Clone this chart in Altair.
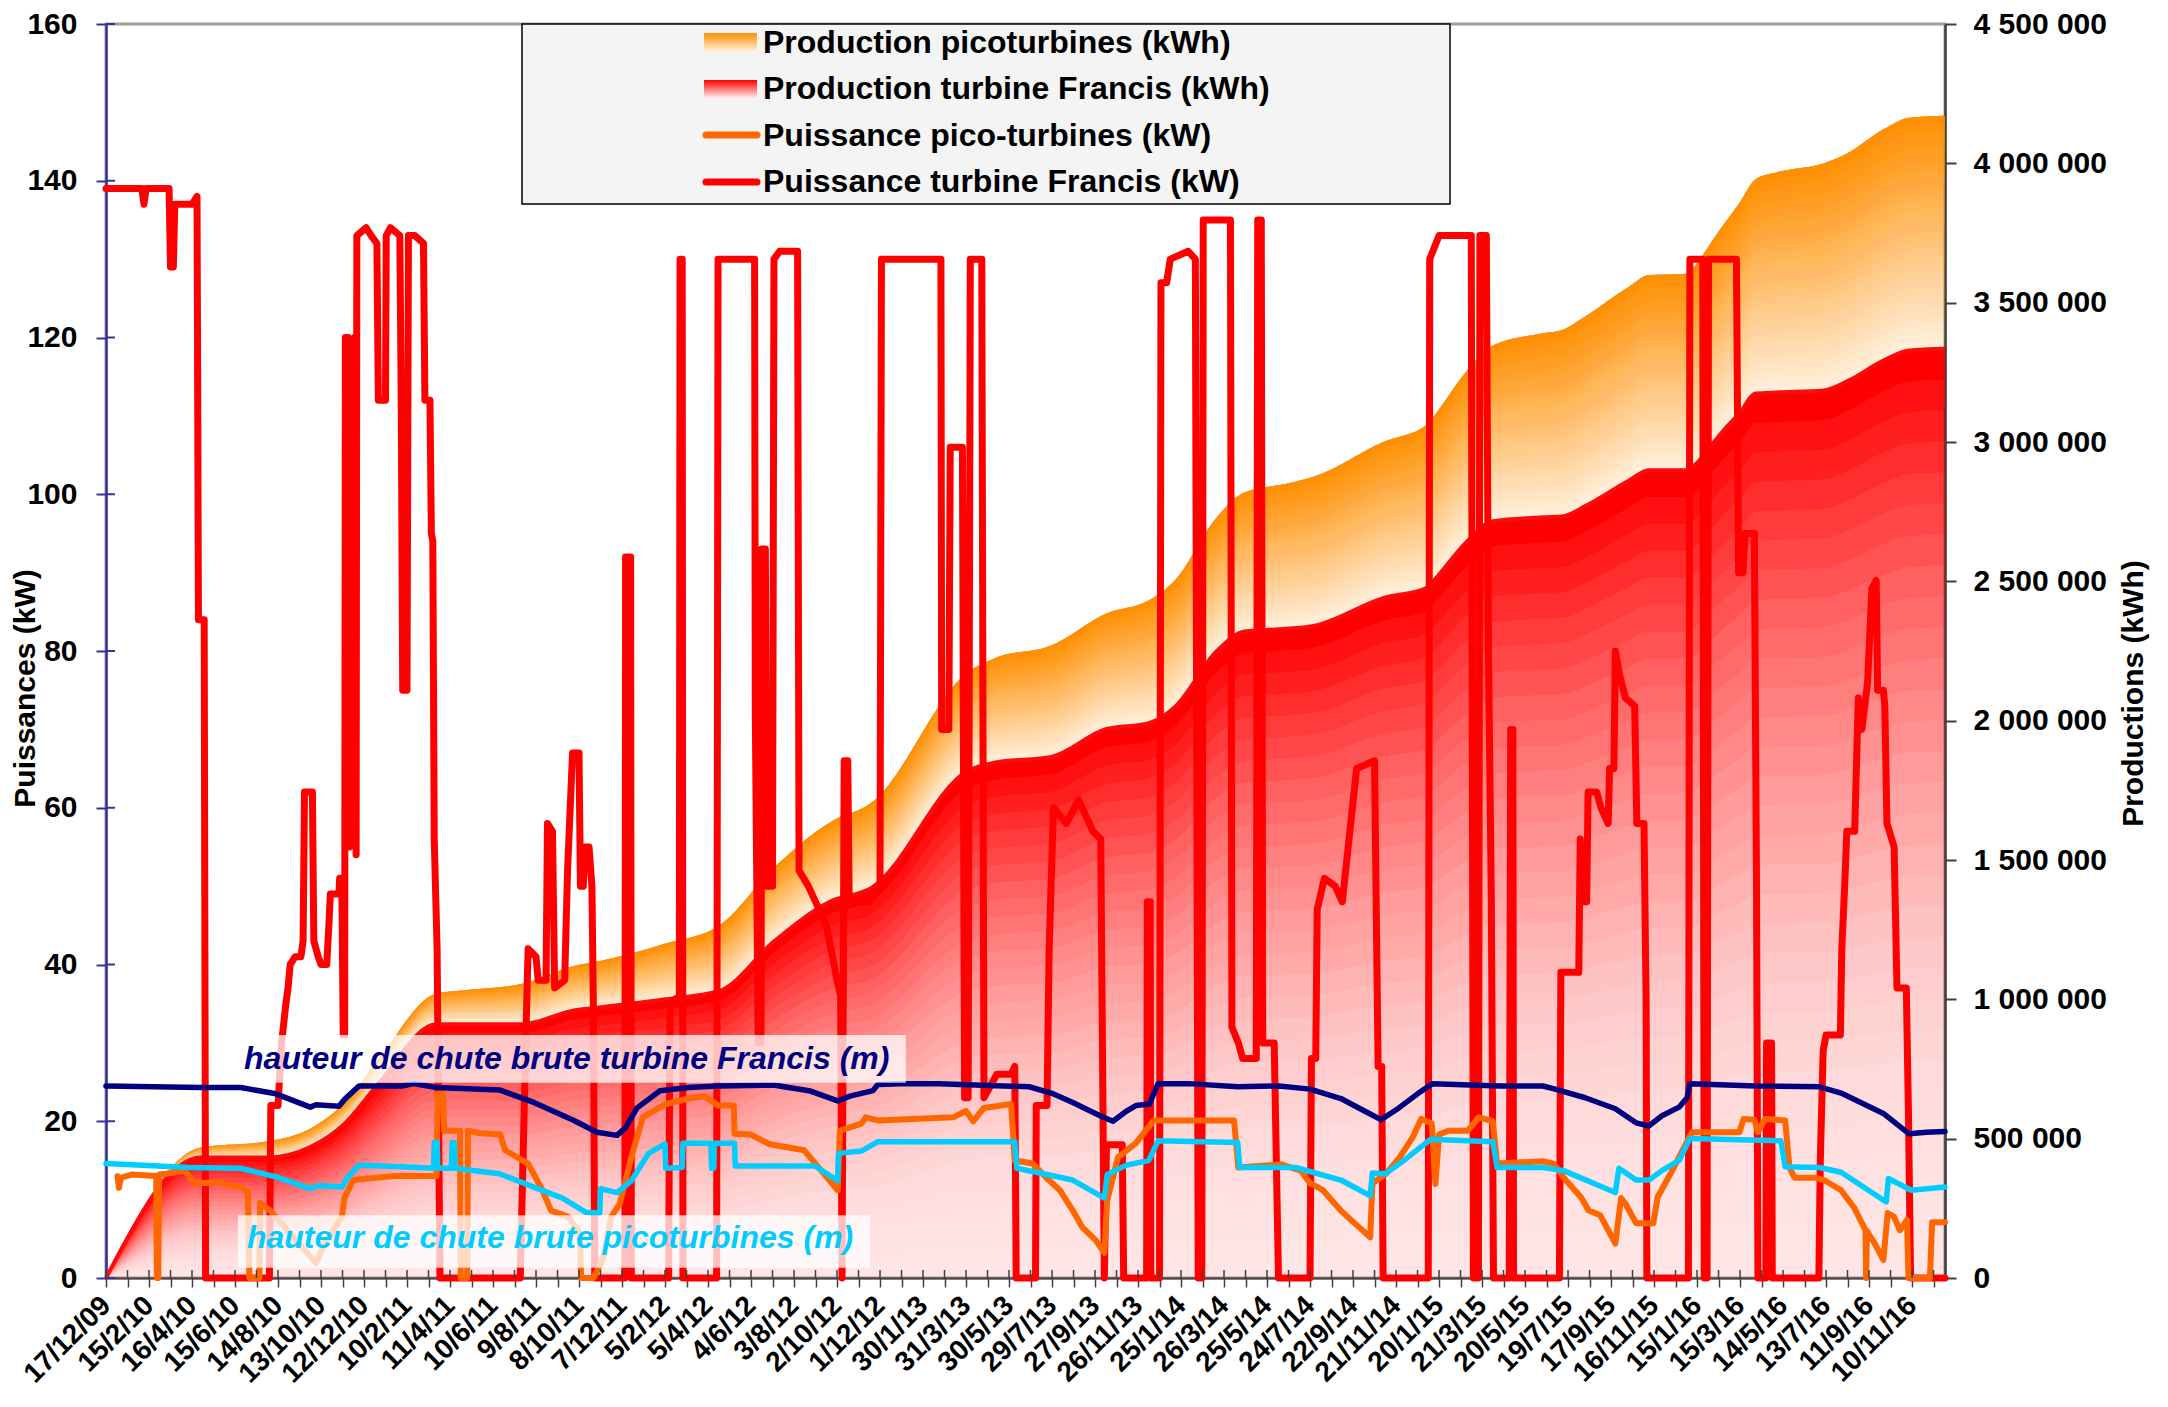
import altair as alt
import pandas as pd

X_LABELS = ['17/12/09', '15/2/10', '16/4/10', '15/6/10', '14/8/10', '13/10/10', '12/12/10', '10/2/11',
            '11/4/11', '10/6/11', '9/8/11', '8/10/11', '7/12/11', '5/2/12', '5/4/12', '4/6/12', '3/8/12',
            '2/10/12', '1/12/12', '30/1/13', '31/3/13', '30/5/13', '29/7/13', '27/9/13', '26/11/13',
            '25/1/14', '26/3/14', '25/5/14', '24/7/14', '22/9/14', '21/11/14', '20/1/15', '21/3/15',
            '20/5/15', '19/7/15', '17/9/15', '16/11/15', '15/1/16', '15/3/16', '14/5/16', '13/7/16',
            '11/9/16', '10/11/16']
X_MAX = 2566  # days since 17/12/09

# cumulative productions (thousand kWh) at day offsets
PROD_DAY = [0, 132, 224, 285, 333, 381, 461, 493, 581, 653, 685, 781, 856, 933, 1010, 1068, 1203, 1241,
            1319, 1396, 1454, 1492, 1550, 1589, 1647, 1685, 1782, 1843, 1850, 1898, 1935, 2005, 2034,
            2064, 2124, 2153, 2206, 2218, 2242, 2260, 2279, 2302, 2332, 2397, 2432, 2480, 2516, 2566]
PROD_FRANCIS = [0, 432, 432, 470, 554, 700, 911, 911, 911, 960, 970, 1000, 1030, 1210, 1350, 1400, 1820,
                1850, 1870, 1970, 1990, 2050, 2250, 2320, 2330, 2340, 2440, 2477, 2495, 2640, 2716, 2730,
                2734, 2770, 2860, 2899, 2899, 2920, 2995, 3050, 3102, 3174, 3178, 3185, 3221, 3292, 3328, 3335]
PROD_PICO = [0, 36, 58, 66, 75, 88, 110, 120, 145, 160, 165, 200, 235, 265, 285, 305, 355, 375, 400, 415,
             440, 455, 480, 500, 520, 535, 560, 585, 588, 612, 630, 660, 670, 680, 695, 700, 705, 715, 730,
             740, 755, 770, 790, 815, 818, 830, 836, 836]

FRANCIS_KW = [(0,139),(50,139),(53,137),(56,139),(88,139),(90,129),(94,129),(96,137),(120,137),(127,138),(129,84),(137,84),(139,0),
(228,0),(230,22),(240,22),(245,30),(251,35),(254,37),(257,40),(264,41),(272,41),(275,43),(277,62),(288,62),(290,43),(296,41),(300,40),(308,40),(311,45),(313,49),(325,49),(326,51),(329,51),(331,31),(333,31),(334,120),(338,120),(340,55),(344,56),(347,120),(349,54),(350,133),(363,134),(370,133),(378,132),(380,112),(390,112),(391,133),(397,134),(410,133),(412,111),(414,75),(420,75),(422,133),(431,133),(443,132),(445,112),(452,112),(454,95),(456,94),(458,56),(462,42),(466,0),
(578,0),(587,35),(589,42),(600,41),(603,38),(614,38),(616,58),(623,57),(626,37),(640,38),(644,52),(651,67),(660,67),(662,50),(666,50),(668,55),(674,55),(678,50),(680,35),(682,0),
(724,0),(725,92),(732,92),(733,0),
(785,0),(787,35),(800,36),(801,130),(804,130),(805,0),(852,0),(854,130),(905,130),(906,72),(910,30),(914,30),(915,93),(920,93),(922,50),(930,50),(932,130),(940,131),(965,131),(967,52),(980,50),(995,47),(1005,45),(1020,38),(1025,36),(1027,0),(1030,66),(1035,66),(1037,48),(1065,48),(1080,50),(1082,130),(1165,130),(1166,70),(1176,70),(1178,106),(1195,106),(1198,23),(1203,23),(1206,130),(1222,130),(1225,23),(1243,26),(1263,26),(1268,27),(1270,0),
(1297,0),(1298,22),(1313,22),(1316,42),(1322,60),(1340,58),(1357,61),(1377,57),(1388,56),(1393,0),(1396,17),(1418,17),(1420,0),(1452,0),(1453,48),(1457,48),(1458,0),(1470,0),(1472,127),(1480,127),(1485,130),(1510,131),(1520,130),(1524,0),(1529,0),(1531,135),(1569,135),(1571,32),(1580,30),(1586,28),(1605,28),(1607,135),(1612,135),(1614,30),(1630,30),(1636,0),(1680,0),(1682,28),(1688,28),(1690,47),(1700,51),(1715,50),(1725,48),(1745,65),(1770,66),(1775,27),(1780,27),(1782,0),
(1845,0),(1847,130),(1860,133),(1905,133),(1908,0),(1915,0),(1917,133),(1926,133),(1929,80),(1933,48),(1936,0),(1958,0),(1960,70),(1963,70),(1964,0),
(2028,0),(2030,39),(2055,39),(2057,56),(2060,48),(2066,48),(2068,62),(2080,62),(2086,60),(2096,58),(2098,65),(2104,65),(2106,80),(2112,77),(2120,74),(2133,73),(2136,58),(2146,58),(2149,35),(2150,0),
(2208,0),(2210,130),(2228,130),(2230,0),(2234,0),(2236,130),(2275,130),(2278,90),(2284,90),(2287,95),(2300,95),(2303,50),(2305,0),(2316,0),(2317,30),(2324,30),(2325,0),
(2390,0),(2392,15),(2396,29),(2400,31),(2420,31),(2422,42),(2426,50),(2429,57),(2440,57),(2445,74),(2450,70),(2458,76),(2464,88),(2470,89),(2472,75),(2480,75),(2482,73),(2485,58),(2495,55),(2499,37),(2512,37),(2515,21),(2518,0),(2566,0)]

PICO_KW = [(16,13),(18,11.5),(21,12.8),(36,13.2),(70,13),(71,0),(73,0),(74,13.2),(84,13.3),(109,13.7),(124,12.1),(156,12.2),(188,11.6),(198,11),(200,0),(214,0),(215,9.6),(229,8.6),(253,6.1),(277,3.6),(293,1.9),(305,4.4),(329,7.8),(333,10.3),(345,12.5),(400,13),(461,13),(463,23.5),(470,23.5),(472,18.8),(494,18.8),(495,0),(504,0),(505,18.8),(520,18.5),(550,18.3),(557,16.3),(589,14.6),(609,11.2),(621,8.6),(645,7.8),(661,5.7),(663,0),(680,0),(693,2.3),(705,7.8),(717,9.5),(733,15.4),(749,20.5),(781,22.2),(813,22.9),(835,23.2),(854,22),(876,22),(877,18.4),(900,18.3),(925,17.1),(974,16.3),(998,13.7),(1021,11.2),(1024,18.8),(1054,19.7),(1060,20.5),(1077,20.1),(1182,20.5),(1200,21.3),(1210,20),(1225,21.7),(1263,22.2),(1268,15),(1293,14.6),(1312,12.8),(1331,11.2),(1349,8.6),(1362,6.5),(1381,4.8),(1393,3.2),(1397,9.9),(1412,15.4),(1437,17.2),(1462,20.1),(1574,20.1),(1580,14.1),(1640,14.5),(1667,13.7),(1680,12.1),(1698,11.2),(1723,8.6),(1742,7),(1764,5.2),(1767,12.1),(1786,13.3),(1805,15.4),(1823,17.9),(1835,20.3),(1850,19.7),(1855,12),(1860,18.3),(1873,18.8),(1900,18.8),(1916,20.5),(1935,20),(1941,14.6),(2005,14.9),(2020,14.6),(2034,12.8),(2058,10.3),(2069,8.6),(2085,8),(2106,4.4),(2114,10.2),(2120,9.5),(2135,7),(2159,7),(2165,10.3),(2183,13.3),(2200,16.3),(2213,18.6),(2279,18.6),(2285,20.3),(2300,20.2),(2305,18.6),(2315,20.3),(2343,20.1),(2349,14.1),(2356,12.8),(2385,12.8),(2397,12.5),(2421,11.2),(2439,9),(2455,6.1),(2456,0),(2457,6),(2468,4.4),(2480,2.3),(2486,8.3),(2495,7.8),(2503,6.1),(2513,7.4),(2515,0),(2545,0),(2548,7.1),(2566,7.1)]

HEAD_FRANCIS_M = [(0,24.5),(132,24.3),(188,24.3),(237,23.5),(285,21.8),(293,22.1),(325,21.9),(333,22.8),(353,24.5),(413,24.5),(429,24.8),(461,24.3),(549,24),(597,22.4),(653,20.1),(685,18.6),(713,18.2),(725,19.2),(741,21.7),(773,23.9),(813,24.3),(854,24.5),(933,24.6),(981,23.9),(1021,22.6),(1038,23.2),(1070,23.9),(1077,24.7),(1108,24.8),(1162,24.8),(1288,24.4),(1319,23.6),(1349,22.4),(1387,20.7),(1405,20),(1424,21.3),(1437,22),(1456,22.2),(1468,24.8),(1511,24.8),(1579,24.4),(1637,24.5),(1680,24.1),(1723,22.9),(1754,21.4),(1779,20.2),(1804,21.7),(1830,23.5),(1851,24.8),(1945,24.5),(2005,24.5),(2022,24.1),(2064,23),(2106,21.6),(2135,19.8),(2153,19.4),(2171,20.7),(2195,21.8),(2206,23),(2210,24.8),(2302,24.5),(2391,24.4),(2421,23.6),(2480,21),(2516,18.4),(2540,18.6),(2566,18.7)]

HEAD_PICO_M = [(0,14.6),(116,14.1),(188,14.0),(237,12.9),(285,11.4),(297,11.8),(329,11.6),(336,12.7),(353,14.4),(413,14.2),(457,14.0),(458,17.3),(462,17.3),(463,14),(482,14),(483,17.3),(486,17.3),(487,14),(549,13.3),(597,11.6),(637,10.2),(669,8.4),(689,8.3),(690,11.4),(713,10.9),(733,12.4),(757,15.9),(780,17.1),(781,14),(804,14.1),(805,17.2),(844,17.2),(845,14),(848,14),(849,17.2),(877,17.2),(878,14.3),(989,14.3),(1021,12.4),(1022,15.9),(1054,16.2),(1077,17.4),(1268,17.4),(1271,14),(1349,12.5),(1393,10.2),(1397,13.2),(1424,14.4),(1455,15),(1468,17.5),(1579,17.3),(1582,14.1),(1660,14.1),(1723,12.5),(1764,10.5),(1767,13.4),(1785,13.3),(1811,15),(1848,17.7),(1935,17.4),(1941,14.1),(2005,14.1),(2034,13.7),(2106,10.9),(2111,14),(2135,12.5),(2153,12.5),(2171,13.7),(2195,15),(2210,17.8),(2337,17.5),(2343,14.2),(2391,14.1),(2421,13.5),(2484,9.7),(2487,12.7),(2519,11.2),(2566,11.6)]

LEGEND_LABELS = ['Production picoturbines (kWh)', 'Production turbine Francis (kWh)',
                 'Puissance pico-turbines (kW)', 'Puissance turbine Francis (kW)']
HEAD_LABELS = ['hauteur de chute brute turbine Francis (m)', 'hauteur de chute brute picoturbines (m)']
KW_TICKS = list(range(0, 161, 20))
DAY_TICKS = list(range(0, X_MAX + 1, 30))

FONT = 'Liberation Sans'
RED = '#ff0000'
ORANGE_LINE = '#ff6600'
NAVY = '#000080'
CYAN = '#00ccff'
AXIS_BLUE = '#333399'
AXIS_GREY = '#404040'
PLOT_W, PLOT_H = 1839, 1254

# ---------- data frames ----------
prod = pd.DataFrame({'day': PROD_DAY,
                     'francis': [v * 1000 for v in PROD_FRANCIS],
                     'pico': [v * 1000 for v in PROD_PICO]})
prod['zero'] = 0
prod['total'] = prod['francis'] + prod['pico']


def series(pairs):
    return pd.DataFrame({'day': [p[0] for p in pairs], 'v': [p[1] for p in pairs],
                         'i': list(range(len(pairs)))})


# ---------- encodings ----------
label_expr = ("datum.value % 60 == 0 ? " + str(X_LABELS).replace("'", '"') + "[datum.value / 60] : ''")
X_AXIS = alt.Axis(values=DAY_TICKS, labelExpr=label_expr, labelAngle=315,
                  labelAlign='right', labelBaseline='middle', labelFontSize=28, labelFontWeight='bold',
                  labelFont=FONT, labelColor='black', labelPadding=14, labelOverlap=False, labelFlush=False,
                  tickSize=9, tickColor=AXIS_GREY, tickWidth=1.5, domainColor=AXIS_GREY, domainWidth=2,
                  grid=False, title=None)


def X(field='day'):
    return alt.X(f'{field}:Q', scale=alt.Scale(domain=[0, X_MAX], nice=False, zero=False), axis=X_AXIS)


KW_AXIS = alt.Axis(values=KW_TICKS, orient='left', title='Puissances (kW)',
                   titleFont=FONT, titleFontSize=30, titleFontWeight='bold', titleAngle=270,
                   titleX=-81, titleY=664, titleAlign='center', titleBaseline='middle', titleColor='black',
                   labelFont=FONT, labelFontSize=30, labelFontWeight='bold', labelColor='black',
                   labelPadding=19, tickSize=10, tickColor=AXIS_BLUE, tickWidth=2,
                   domainColor=AXIS_BLUE, domainWidth=2.5, grid=False)

KWH_AXIS = alt.Axis(values=list(range(0, 4500001, 500000)), orient='right', title='Productions (kWh)',
                    labelExpr="replace(replace(format(datum.value, ',d'), ',', ' '), ',', ' ')",
                    titleFont=FONT, titleFontSize=30, titleFontWeight='bold', titleAngle=270,
                    titleX=188, titleY=669, titleAlign='center', titleBaseline='middle', titleColor='black',
                    labelFont=FONT, labelFontSize=30, labelFontWeight='bold', labelColor='black',
                    labelPadding=17, tickSize=11, tickColor=AXIS_GREY, tickWidth=2,
                    domainColor=AXIS_GREY, domainWidth=2.5, grid=False)

KW_SCALE = alt.Scale(domain=[0, 160], nice=False, zero=True)
KWH_SCALE = alt.Scale(domain=[0, 4500000], nice=False, zero=True)

# ---------- production areas (local vertical gradient built from stacked translucent bands) ----------
K = 30


def band_layers(lo_field, hi_field, color, wfun):
    ws = [wfun((j + 0.5) / K) for j in range(K)]
    alphas = [0.0] * K
    alphas[-1] = 1 - ws[-1]
    for j in range(K - 2, -1, -1):
        alphas[j] = max(0.0, 1 - ws[j] / ws[j + 1])
    out = []
    for j in range(K):
        t = (j + 1) / K
        out.append(
            alt.Chart(prod).transform_calculate(
                lo=f"datum.{hi_field} - {t} * (datum.{hi_field} - datum.{lo_field})"
            ).mark_area(color=color, fillOpacity=alphas[j], strokeWidth=0, interpolate='monotone').encode(
                x=X(), y=alt.Y('lo:Q', scale=KWH_SCALE, axis=KWH_AXIS), y2=alt.Y2(f'{hi_field}:Q'))
        )
    return out


red_layers = band_layers('zero', 'francis', '#ff0000', lambda f: 0.9 - 0.88 * (1 - f) ** 2)
orange_layers = band_layers('francis', 'total', '#ff9200', lambda f: 0.03 + 0.84 * f)
red_edge = alt.Chart(prod).mark_line(color='#ff0a0a', strokeWidth=4, interpolate='monotone').encode(
    x=X(), y=alt.Y('francis:Q', scale=KWH_SCALE, axis=KWH_AXIS))

areas = alt.layer(*red_layers, *orange_layers, red_edge)


# ---------- power and head lines ----------
def line(pairs, color, width):
    return alt.Chart(series(pairs)).mark_line(color=color, strokeWidth=width, strokeJoin='round',
                                              strokeCap='round').encode(
        x=X(), y=alt.Y('v:Q', scale=KW_SCALE, axis=KW_AXIS), order='i:Q')


francis_line = line(FRANCIS_KW, RED, 7)
pico_line = line(PICO_KW, ORANGE_LINE, 6)
navy_line = line(HEAD_FRANCIS_M, NAVY, 5.5)
cyan_line = line(HEAD_PICO_M, CYAN, 5.5)

# inner halves of the crossing tick marks
kw_inner = alt.Chart(pd.DataFrame({'v': KW_TICKS})).mark_rule(color=AXIS_BLUE, strokeWidth=2).encode(
    x=alt.value(0), x2=alt.value(9), y=alt.Y('v:Q', scale=KW_SCALE, axis=KW_AXIS))
day_inner = alt.Chart(pd.DataFrame({'day': DAY_TICKS})).mark_rule(color=AXIS_GREY, strokeWidth=1.5).encode(
    x=X(), y=alt.value(PLOT_H - 8), y2=alt.value(PLOT_H))

# head labels with translucent white backgrounds
head_df = pd.DataFrame({'label': HEAD_LABELS, 'color': [NAVY, CYAN],
                        'day': [180, 184], 'day2': [1116, 1066], 'v': [24.9, 1.3], 'v2': [31.0, 8.0],
                        'tx': [192.6, 196.7], 'ty': [26.7, 3.8]})
head_boxes = alt.Chart(head_df).mark_rect(fill='white', fillOpacity=0.75).encode(
    x=X(), x2='day2:Q', y=alt.Y('v:Q', scale=KW_SCALE, axis=KW_AXIS), y2='v2:Q')
head_texts = alt.Chart(head_df).mark_text(align='left', baseline='alphabetic', font=FONT, fontSize=32,
                                          fontWeight='bold', fontStyle='italic').encode(
    x=X('tx'), y=alt.Y('ty:Q', scale=KW_SCALE, axis=KW_AXIS), text='label:N',
    color=alt.Color('color:N', scale=None))

# ---------- legend box ----------
one = pd.DataFrame({'a': [0]})
leg_box = alt.Chart(one).mark_rect(fill='#f4f4f4', stroke='black', strokeWidth=1.5).encode(
    x=alt.value(416), x2=alt.value(1344), y=alt.value(0), y2=alt.value(180))
grad_o = alt.Gradient(gradient='linear', x1=0, x2=0, y1=0, y2=1,
                      stops=[alt.GradientStop(offset=0, color='#ff9000'),
                             alt.GradientStop(offset=1, color='#fff4e6')])
grad_r = alt.Gradient(gradient='linear', x1=0, x2=0, y1=0, y2=1,
                      stops=[alt.GradientStop(offset=0, color='#ff0000'),
                             alt.GradientStop(offset=1, color='#ffecec')])
sw1 = alt.Chart(one).mark_rect(color=grad_o).encode(
    x=alt.value(598), x2=alt.value(651), y=alt.value(9), y2=alt.value(28))
sw2 = alt.Chart(one).mark_rect(color=grad_r).encode(
    x=alt.value(598), x2=alt.value(651), y=alt.value(56), y2=alt.value(74))
sw3 = alt.Chart(one).mark_rule(color=ORANGE_LINE, strokeWidth=7, strokeCap='round').encode(
    x=alt.value(600), x2=alt.value(651), y=alt.value(111))
sw4 = alt.Chart(one).mark_rule(color=RED, strokeWidth=7, strokeCap='round').encode(
    x=alt.value(600), x2=alt.value(651), y=alt.value(158))
leg_texts = [
    alt.Chart(one).mark_text(align='left', baseline='middle', font=FONT, fontSize=32, fontWeight='bold',
                             color='black').encode(x=alt.value(657), y=alt.value(yy), text=alt.value(lab))
    for lab, yy in zip(LEGEND_LABELS, [19, 65, 112, 158])
]

lines = alt.layer(francis_line, pico_line, navy_line, cyan_line, kw_inner, day_inner, head_boxes, head_texts,
                  leg_box, sw1, sw2, sw3, sw4, *leg_texts)

chart = alt.layer(areas, lines).resolve_scale(y='independent').properties(
    width=PLOT_W, height=PLOT_H,
    padding={'left': 98, 'top': 16, 'right': 215, 'bottom': 121},
    autosize=alt.AutoSizeParams(type='none'),
    background='white'
).configure(font=FONT).configure_view(stroke='#a0a0a0', strokeWidth=3)

chart.save("out.html", embed_options={"renderer": "svg", "actions": False})
